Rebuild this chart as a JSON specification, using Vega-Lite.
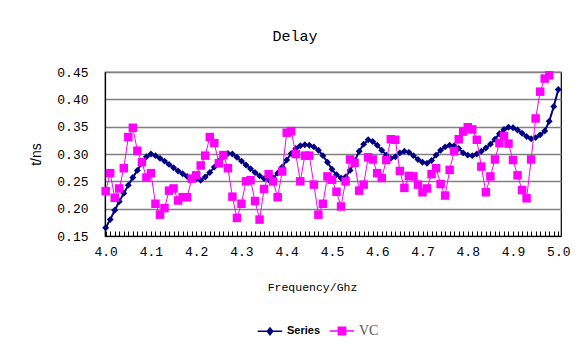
{
  "$schema": "https://vega.github.io/schema/vega-lite/v6.json",
  "autosize": {"type": "none"},
  "width": 456,
  "height": 164,
  "padding": {"left": 105, "top": 72, "right": 19, "bottom": 120},
  "background": "white",
  "title": {"text": "Delay", "font": "Liberation Mono", "fontSize": 15, "fontWeight": "normal", "color": "#000", "dx": -38, "offset": 22},
  "config": {
    "view": {"stroke": "#000", "strokeWidth": 1.2},
    "axis": {"labelFont": "Liberation Mono", "labelFontSize": 13, "labelColor": "#000", "titleColor": "#000"}
  },
  "datasets": {
    "d": [
      {"f":4.00,"s":"Series","t":0.165},{"f":4.01,"s":"Series","t":0.180},{"f":4.02,"s":"Series","t":0.197},{"f":4.03,"s":"Series","t":0.213},{"f":4.04,"s":"Series","t":0.228},
      {"f":4.05,"s":"Series","t":0.243},{"f":4.06,"s":"Series","t":0.257},{"f":4.07,"s":"Series","t":0.270},{"f":4.08,"s":"Series","t":0.283},{"f":4.09,"s":"Series","t":0.295},
      {"f":4.10,"s":"Series","t":0.300},{"f":4.11,"s":"Series","t":0.297},{"f":4.12,"s":"Series","t":0.292},{"f":4.13,"s":"Series","t":0.287},{"f":4.14,"s":"Series","t":0.281},
      {"f":4.15,"s":"Series","t":0.275},{"f":4.16,"s":"Series","t":0.269},{"f":4.17,"s":"Series","t":0.264},{"f":4.18,"s":"Series","t":0.259},{"f":4.19,"s":"Series","t":0.256},
      {"f":4.20,"s":"Series","t":0.255},{"f":4.21,"s":"Series","t":0.252},{"f":4.22,"s":"Series","t":0.258},{"f":4.23,"s":"Series","t":0.266},{"f":4.24,"s":"Series","t":0.276},
      {"f":4.25,"s":"Series","t":0.287},{"f":4.26,"s":"Series","t":0.296},{"f":4.27,"s":"Series","t":0.301},{"f":4.28,"s":"Series","t":0.300},{"f":4.29,"s":"Series","t":0.294},
      {"f":4.30,"s":"Series","t":0.287},{"f":4.31,"s":"Series","t":0.280},{"f":4.32,"s":"Series","t":0.273},{"f":4.33,"s":"Series","t":0.266},{"f":4.34,"s":"Series","t":0.260},
      {"f":4.35,"s":"Series","t":0.255},{"f":4.36,"s":"Series","t":0.253},{"f":4.37,"s":"Series","t":0.256},{"f":4.38,"s":"Series","t":0.265},{"f":4.39,"s":"Series","t":0.276},
      {"f":4.40,"s":"Series","t":0.289},{"f":4.41,"s":"Series","t":0.301},{"f":4.42,"s":"Series","t":0.310},{"f":4.43,"s":"Series","t":0.315},{"f":4.44,"s":"Series","t":0.317},
      {"f":4.45,"s":"Series","t":0.316},{"f":4.46,"s":"Series","t":0.313},{"f":4.47,"s":"Series","t":0.307},{"f":4.48,"s":"Series","t":0.297},{"f":4.49,"s":"Series","t":0.285},
      {"f":4.50,"s":"Series","t":0.272},{"f":4.51,"s":"Series","t":0.262},{"f":4.52,"s":"Series","t":0.256},{"f":4.53,"s":"Series","t":0.258},{"f":4.54,"s":"Series","t":0.270},
      {"f":4.55,"s":"Series","t":0.287},{"f":4.56,"s":"Series","t":0.305},{"f":4.57,"s":"Series","t":0.318},{"f":4.58,"s":"Series","t":0.326},{"f":4.59,"s":"Series","t":0.323},
      {"f":4.60,"s":"Series","t":0.316},{"f":4.61,"s":"Series","t":0.307},{"f":4.62,"s":"Series","t":0.298},{"f":4.63,"s":"Series","t":0.292},{"f":4.64,"s":"Series","t":0.295},
      {"f":4.65,"s":"Series","t":0.302},{"f":4.66,"s":"Series","t":0.305},{"f":4.67,"s":"Series","t":0.303},{"f":4.68,"s":"Series","t":0.297},{"f":4.69,"s":"Series","t":0.290},
      {"f":4.70,"s":"Series","t":0.285},{"f":4.71,"s":"Series","t":0.283},{"f":4.72,"s":"Series","t":0.288},{"f":4.73,"s":"Series","t":0.298},{"f":4.74,"s":"Series","t":0.307},
      {"f":4.75,"s":"Series","t":0.313},{"f":4.76,"s":"Series","t":0.316},{"f":4.77,"s":"Series","t":0.315},{"f":4.78,"s":"Series","t":0.310},{"f":4.79,"s":"Series","t":0.302},
      {"f":4.80,"s":"Series","t":0.298},{"f":4.81,"s":"Series","t":0.297},{"f":4.82,"s":"Series","t":0.300},{"f":4.83,"s":"Series","t":0.305},{"f":4.84,"s":"Series","t":0.311},
      {"f":4.85,"s":"Series","t":0.318},{"f":4.86,"s":"Series","t":0.327},{"f":4.87,"s":"Series","t":0.337},{"f":4.88,"s":"Series","t":0.345},{"f":4.89,"s":"Series","t":0.349},
      {"f":4.90,"s":"Series","t":0.348},{"f":4.91,"s":"Series","t":0.344},{"f":4.92,"s":"Series","t":0.338},{"f":4.93,"s":"Series","t":0.332},{"f":4.94,"s":"Series","t":0.328},
      {"f":4.95,"s":"Series","t":0.330},{"f":4.96,"s":"Series","t":0.335},{"f":4.97,"s":"Series","t":0.342},{"f":4.98,"s":"Series","t":0.360},{"f":4.99,"s":"Series","t":0.387},
      {"f":5.00,"s":"Series","t":0.418},
      {"f":4.00,"s":"VC","t":0.232},{"f":4.01,"s":"VC","t":0.265},{"f":4.02,"s":"VC","t":0.220},{"f":4.03,"s":"VC","t":0.237},{"f":4.04,"s":"VC","t":0.274},
      {"f":4.05,"s":"VC","t":0.331},{"f":4.06,"s":"VC","t":0.348},{"f":4.07,"s":"VC","t":0.306},{"f":4.08,"s":"VC","t":0.285},{"f":4.09,"s":"VC","t":0.257},
      {"f":4.10,"s":"VC","t":0.265},{"f":4.11,"s":"VC","t":0.209},{"f":4.12,"s":"VC","t":0.189},{"f":4.13,"s":"VC","t":0.201},{"f":4.14,"s":"VC","t":0.233},
      {"f":4.15,"s":"VC","t":0.237},{"f":4.16,"s":"VC","t":0.215},{"f":4.17,"s":"VC","t":0.221},{"f":4.18,"s":"VC","t":0.221},{"f":4.19,"s":"VC","t":0.255},
      {"f":4.20,"s":"VC","t":0.261},{"f":4.21,"s":"VC","t":0.279},{"f":4.22,"s":"VC","t":0.297},{"f":4.23,"s":"VC","t":0.331},{"f":4.24,"s":"VC","t":0.320},
      {"f":4.25,"s":"VC","t":0.283},{"f":4.26,"s":"VC","t":0.298},{"f":4.27,"s":"VC","t":0.274},{"f":4.28,"s":"VC","t":0.222},{"f":4.29,"s":"VC","t":0.183},
      {"f":4.30,"s":"VC","t":0.209},{"f":4.31,"s":"VC","t":0.250},{"f":4.32,"s":"VC","t":0.252},{"f":4.33,"s":"VC","t":0.214},{"f":4.34,"s":"VC","t":0.180},
      {"f":4.35,"s":"VC","t":0.236},{"f":4.36,"s":"VC","t":0.263},{"f":4.37,"s":"VC","t":0.250},{"f":4.38,"s":"VC","t":0.221},{"f":4.39,"s":"VC","t":0.268},
      {"f":4.40,"s":"VC","t":0.339},{"f":4.41,"s":"VC","t":0.342},{"f":4.42,"s":"VC","t":0.300},{"f":4.43,"s":"VC","t":0.250},{"f":4.44,"s":"VC","t":0.297},
      {"f":4.45,"s":"VC","t":0.297},{"f":4.46,"s":"VC","t":0.244},{"f":4.47,"s":"VC","t":0.189},{"f":4.48,"s":"VC","t":0.209},{"f":4.49,"s":"VC","t":0.259},
      {"f":4.50,"s":"VC","t":0.253},{"f":4.51,"s":"VC","t":0.231},{"f":4.52,"s":"VC","t":0.204},{"f":4.53,"s":"VC","t":0.250},{"f":4.54,"s":"VC","t":0.290},
      {"f":4.55,"s":"VC","t":0.284},{"f":4.56,"s":"VC","t":0.233},{"f":4.57,"s":"VC","t":0.244},{"f":4.58,"s":"VC","t":0.294},{"f":4.59,"s":"VC","t":0.290},
      {"f":4.60,"s":"VC","t":0.265},{"f":4.61,"s":"VC","t":0.256},{"f":4.62,"s":"VC","t":0.289},{"f":4.63,"s":"VC","t":0.327},{"f":4.64,"s":"VC","t":0.326},
      {"f":4.65,"s":"VC","t":0.269},{"f":4.66,"s":"VC","t":0.238},{"f":4.67,"s":"VC","t":0.260},{"f":4.68,"s":"VC","t":0.259},{"f":4.69,"s":"VC","t":0.244},
      {"f":4.70,"s":"VC","t":0.230},{"f":4.71,"s":"VC","t":0.237},{"f":4.72,"s":"VC","t":0.263},{"f":4.73,"s":"VC","t":0.274},{"f":4.74,"s":"VC","t":0.245},
      {"f":4.75,"s":"VC","t":0.224},{"f":4.76,"s":"VC","t":0.271},{"f":4.77,"s":"VC","t":0.305},{"f":4.78,"s":"VC","t":0.327},{"f":4.79,"s":"VC","t":0.341},
      {"f":4.80,"s":"VC","t":0.349},{"f":4.81,"s":"VC","t":0.345},{"f":4.82,"s":"VC","t":0.326},{"f":4.83,"s":"VC","t":0.277},{"f":4.84,"s":"VC","t":0.230},
      {"f":4.85,"s":"VC","t":0.259},{"f":4.86,"s":"VC","t":0.290},{"f":4.87,"s":"VC","t":0.320},{"f":4.88,"s":"VC","t":0.333},{"f":4.89,"s":"VC","t":0.319},
      {"f":4.90,"s":"VC","t":0.289},{"f":4.91,"s":"VC","t":0.261},{"f":4.92,"s":"VC","t":0.234},{"f":4.93,"s":"VC","t":0.219},{"f":4.94,"s":"VC","t":0.290},
      {"f":4.95,"s":"VC","t":0.365},{"f":4.96,"s":"VC","t":0.414},{"f":4.97,"s":"VC","t":0.438},{"f":4.98,"s":"VC","t":0.444}
    ]
  },
  "data": {"name": "d"},
  "encoding": {
    "x": {
      "field": "f", "type": "quantitative",
      "scale": {"domain": [3.9985, 5.006], "nice": false, "zero": false},
      "axis": {
        "values": [4.00,4.01,4.02,4.03,4.04,4.05,4.06,4.07,4.08,4.09,4.10,4.11,4.12,4.13,4.14,4.15,4.16,4.17,4.18,4.19,4.20,4.21,4.22,4.23,4.24,4.25,4.26,4.27,4.28,4.29,4.30,4.31,4.32,4.33,4.34,4.35,4.36,4.37,4.38,4.39,4.40,4.41,4.42,4.43,4.44,4.45,4.46,4.47,4.48,4.49,4.50,4.51,4.52,4.53,4.54,4.55,4.56,4.57,4.58,4.59,4.60,4.61,4.62,4.63,4.64,4.65,4.66,4.67,4.68,4.69,4.70,4.71,4.72,4.73,4.74,4.75,4.76,4.77,4.78,4.79,4.80,4.81,4.82,4.83,4.84,4.85,4.86,4.87,4.88,4.89,4.90,4.91,4.92,4.93,4.94,4.95,4.96,4.97,4.98,4.99,5.00],
        "labelExpr": "abs(datum.value * 10 - round(datum.value * 10)) < 0.001 ? format(datum.value, '.1f') : ''",
        "labelOverlap": false,
        "labelFlush": false,
        "labelDx": -5,
        "labelPadding": 14,
        "tickSize": -5,
        "tickColor": "#000",
        "tickWidth": 1,
        "domainColor": "#000",
        "domainWidth": 1.2,
        "grid": false,
        "title": "Frequency/Ghz",
        "titleFont": "Liberation Mono",
        "titleFontSize": 11.5,
        "titleFontWeight": "normal",
        "titleX": 207,
        "titleY": 51,
        "titleBaseline": "middle",
        "titleAnchor": "middle"
      }
    },
    "y": {
      "field": "t", "type": "quantitative",
      "scale": {"domain": [0.15, 0.45], "nice": false, "zero": false},
      "axis": {
        "values": [0.15,0.20,0.25,0.30,0.35,0.40,0.45],
        "format": ".2f",
        "ticks": false,
        "labelPadding": 17,
        "domainColor": "#000",
        "domainWidth": 1.2,
        "grid": true,
        "gridColor": "#808080",
        "gridWidth": 1.6,
        "title": "t/ns",
        "titleFont": "Liberation Sans",
        "titleFontSize": 14,
        "titleFontWeight": "normal",
        "titlePadding": 13
      }
    },
    "color": {
      "field": "s", "type": "nominal",
      "scale": {"domain": ["Series", "VC"], "range": ["#000080", "#ff00ff"]},
      "legend": {
        "title": null,
        "orient": "none",
        "legendX": 152,
        "legendY": 246,
        "direction": "horizontal",
        "columns": 2,
        "columnPadding": 5,
        "symbolSize": 600,
        "symbolStrokeWidth": 1.5,
        "symbolType": "square",
        "labelOffset": 4,
        "labelFontSize": 11,
        "encode": {
          "symbols": {
            "update": {
              "shape": {"signal": "datum.value === 'VC' ? 'M-1,0L1,0M-0.3,-0.3L0.3,-0.3L0.3,0.3L-0.3,0.3Z' : 'M-1,0L1,0M0,-0.28L0.22,0L0,0.28L-0.22,0Z'"},
              "fill": {"signal": "datum.value === 'VC' ? '#ff00ff' : '#000080'"},
              "stroke": {"signal": "datum.value === 'VC' ? '#ff00ff' : '#000080'"},
              "opacity": {"value": 1},
              "fillOpacity": {"value": 1},
              "strokeOpacity": {"value": 1}
            }
          },
          "labels": {
            "update": {
              "font": {"signal": "datum.value === 'VC' ? 'Liberation Serif' : 'Liberation Sans'"},
              "fontSize": {"signal": "datum.value === 'VC' ? 14 : 11"},
              "fontWeight": {"signal": "datum.value === 'VC' ? 'normal' : 'bold'"},
              "fill": {"signal": "datum.value === 'VC' ? '#555555' : '#000000'"}
            }
          }
        }
      }
    }
  },
  "layer": [
    {
      "transform": [{"filter": "datum.s === 'Series'"}],
      "mark": {"type": "line", "strokeWidth": 2}
    },
    {
      "transform": [{"filter": "datum.s === 'Series'"}],
      "mark": {"type": "point", "filled": true, "opacity": 1, "size": 48, "shape": "diamond"}
    },
    {
      "transform": [{"filter": "datum.s === 'VC'"}],
      "mark": {"type": "line", "strokeWidth": 1}
    },
    {
      "transform": [{"filter": "datum.s === 'VC'"}],
      "mark": {"type": "point", "filled": true, "opacity": 1, "size": 72, "shape": "square"}
    }
  ]
}
